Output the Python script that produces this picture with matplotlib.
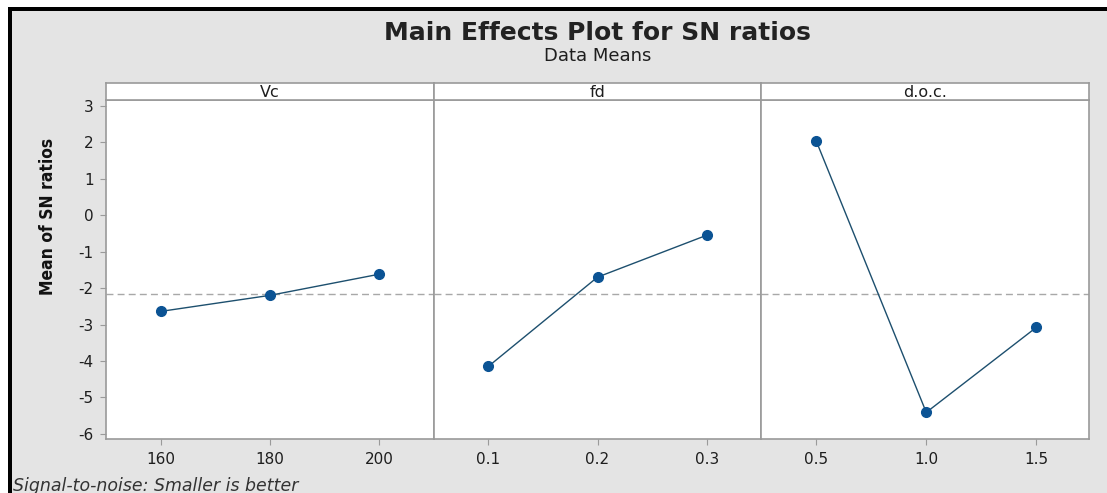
import matplotlib
matplotlib.use("Agg")
import matplotlib.pyplot as plt
from matplotlib.patches import Rectangle

# factor levels and mean SN ratios
factors = ["Vc", "fd", "d.o.c."]
vc_levels = [160, 180, 200]
vc_sn = [-2.64, -2.20, -1.62]
fd_levels = [0.1, 0.2, 0.3]
fd_sn = [-4.15, -1.70, -0.55]
doc_levels = [0.5, 1.0, 1.5]
doc_sn = [2.03, -5.41, -3.08]
xtick_labels = [["160", "180", "200"], ["0.1", "0.2", "0.3"], ["0.5", "1.0", "1.5"]]
yticks = [3, 2, 1, 0, -1, -2, -3, -4, -5, -6]

levels = [vc_levels, fd_levels, doc_levels]
values = [vc_sn, fd_sn, doc_sn]
xlims = [(150, 210), (0.05, 0.35), (0.25, 1.74)]
grand_mean = sum(vc_sn) / len(vc_sn)

plt.rcParams['font.family'] = ['DejaVu Sans']
plt.rcParams['axes.unicode_minus'] = False
bg = "#e4e4e4"
edge = "#9a9a9a"
txt = "#1e1e1e"

fig = plt.figure(figsize=(11.07, 4.93), dpi=100, facecolor="white")
# gray panel with black border on top/left
fig.patches.append(Rectangle((0.0085, 0), 1.0, 0.9825, transform=fig.transFigure,
                             facecolor=bg, edgecolor="none", zorder=-2))
fig.patches.append(Rectangle((0.0075, 0), 0.0036, 0.9855, transform=fig.transFigure,
                             facecolor="black", edgecolor="none", zorder=-1))
fig.patches.append(Rectangle((0.0075, 0.9775), 1.0, 0.009, transform=fig.transFigure,
                             facecolor="black", edgecolor="none", zorder=-1))

left, right = 106 / 1107, 1089 / 1107
bottom, top = 1 - 439 / 493, 1 - 100 / 493
strip_h = 17 / 493
w = (right - left) / 3

for i in range(3):
    ax = fig.add_axes([left + i * w, bottom, w, top - bottom])
    ax.set_facecolor("white")
    ax.axhline(grand_mean, color="#a8a8a8", ls=(0, (5, 3)), lw=1, zorder=1)
    ax.plot(levels[i], values[i], color="#1d4f6e", lw=1, marker="o", ms=7,
            mfc="#0b5394", mec="#0b5394", zorder=3)
    ax.set_xlim(*xlims[i])
    ax.set_ylim(-6.14, 3.16)
    ax.set_xticks(levels[i])
    ax.set_xticklabels(xtick_labels[i])
    ax.set_yticks(yticks)
    for s in ax.spines.values():
        s.set_color(edge)
        s.set_linewidth(1.2)
    ax.tick_params(colors=edge, labelcolor=txt, labelsize=11, length=4, width=0.8, pad=5)
    if i > 0:
        ax.tick_params(axis="y", left=False, labelleft=False)

    sax = fig.add_axes([left + i * w, top, w, strip_h])
    sax.set_facecolor("white")
    sax.set_xticks([])
    sax.set_yticks([])
    for s in sax.spines.values():
        s.set_color(edge)
        s.set_linewidth(1.2)
    sax.text(0.5, 0.42, factors[i], ha="center", va="center", fontsize=11.5, color=txt,
             transform=sax.transAxes)

fig.text(48 / 1107, 1 - 216 / 493, "Mean of SN ratios", rotation=90, ha="center", va="center",
         stretch="condensed", fontweight="bold", fontsize=12.5, color="#111111")
fig.text(0.540, 1 - 33 / 493, "Main Effects Plot for SN ratios", ha="center", va="center",
         fontsize=18, fontweight="bold", color="#222222")
fig.text(0.540, 1 - 56 / 493, "Data Means", ha="center", va="center", fontsize=13,
         color=txt)
fig.text(0.012, 1 - 486 / 493, "Signal-to-noise: Smaller is better", ha="left", va="center",
         fontsize=12.5, style="italic", color="#333333")

fig.savefig("out.png", dpi=100, facecolor=fig.get_facecolor())
